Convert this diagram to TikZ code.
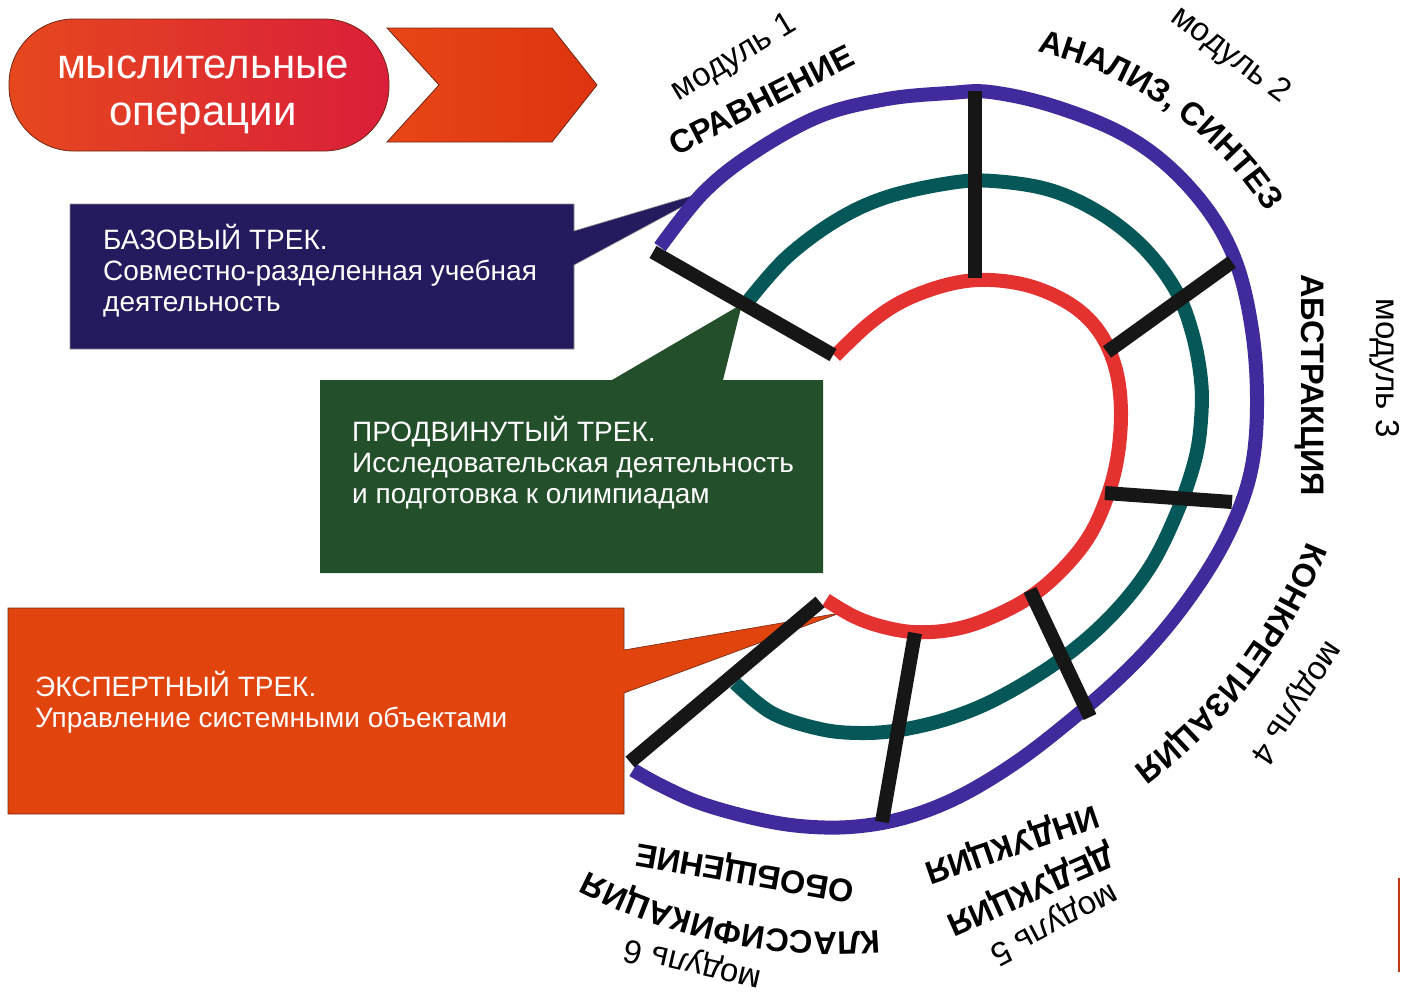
\documentclass[tikz,border=0pt]{standalone}
\usepackage{fontspec}
\setmainfont{Liberation Sans}
\usetikzlibrary{decorations.text}
\definecolor{ringpurple}{RGB}{64,42,156}
\definecolor{ringteal}{RGB}{6,88,88}
\definecolor{ringred}{RGB}{228,50,48}
\definecolor{spokeblack}{RGB}{22,22,22}
\definecolor{boxblue}{RGB}{36,26,94}
\definecolor{boxgreen}{RGB}{35,79,43}
\definecolor{boxorange}{RGB}{226,68,14}
\definecolor{pillleft}{RGB}{230,72,30}
\definecolor{pillright}{RGB}{218,30,58}
\definecolor{chevleft}{RGB}{232,70,22}
\definecolor{chevright}{RGB}{222,52,16}
\definecolor{edgebrown}{RGB}{110,40,20}
\definecolor{edgeline}{RGB}{190,56,18}
\begin{document}
\begin{tikzpicture}[x=1pt,y=-1pt,
  ring/.style={line width=14pt},
  spoke/.style={line width=14pt, draw=spokeblack},
  calltext/.style={text=white, font=\fontsize{28}{31.5}\selectfont, anchor=base west, inner sep=0pt},
  pilltext/.style={text=white, font=\fontsize{42}{47}\selectfont, anchor=base, inner sep=0pt},
  oplabel/.style={font=\fontsize{32.5}{34}\selectfont\bfseries, inner sep=0pt, text height=0.72em, text depth=0pt},
  modlabel/.style={font=\fontsize{33}{35}\selectfont, inner sep=0pt, text height=0.52em, text depth=0pt},
]
\useasboundingbox (0,0) rectangle (1401,996);
\fill[white] (0,0) rectangle (1401,996);

% header
\shade[left color=pillleft, right color=pillright, draw=edgebrown, line width=0.8pt, rounded corners=65pt]
  (9,19) rectangle (389,151);
\shade[left color=chevleft, right color=chevright, draw=edgebrown, line width=0.8pt]
  (387,28) -- (552,28) -- (597,85) -- (552,142) -- (387,142) -- (439,85) -- cycle;
\node[pilltext] (pillA) at (203,78) {мыслительные};
\node[pilltext] (pillB) at (203,125) {операции};

% callouts
\fill[boxblue, draw=black!45, line width=0.6pt]
  (70,204) -- (574,204) -- (574,231) -- (715,189) -- (574,265) -- (574,349) -- (70,349) -- cycle;
\fill[boxgreen]
  (320,380) -- (612,380) -- (742,304) -- (723,380) -- (823,380) -- (823,573) -- (320,573) -- cycle;
\fill[boxorange, draw=edgebrown, line width=0.6pt]
  (8,608) -- (624,608) -- (624,650) -- (840,613) -- (624,693) -- (624,814) -- (8,814) -- cycle;

% rings
\draw[ring, ringpurple] plot[smooth, tension=0.6] coordinates {
  (660,247) (703,193) (753,153) (820,116) (887,99) (950,93) (990,92) (1050,105)
  (1117,131) (1167,165) (1210,213) (1237,265) (1252,330) (1257,397) (1253,460)
  (1238,512) (1210,567) (1167,627) (1117,680) (1050,737) (1000,773) (950,801)
  (900,819) (850,827) (800,826) (753,818) (700,803) (660,785) (633,770)};
\draw[ring, ringteal] plot[smooth, tension=0.6] coordinates {
  (749,300) (787,257) (837,220) (887,197) (950,183) (993,181) (1050,190) (1100,213)
  (1143,247) (1175,289) (1192,332) (1201,380) (1201,420) (1195,460) (1178,510)
  (1150,567) (1110,617) (1060,660) (1000,697) (950,718) (900,730) (860,733)
  (820,729) (772,713) (735,683)};
\draw[ring, ringred] plot[smooth, tension=0.6] coordinates {
  (835,356) (870,323) (905,300) (950,284) (990,280) (1033,287) (1073,306) (1100,333)
  (1116,370) (1121,413) (1117,460) (1106,500) (1088,538) (1060,572) (1027,599)
  (985,620) (950,630) (913,632) (880,626) (853,616) (826,600)};

% spokes
\coordinate (s1a) at (653,252); \coordinate (s1b) at (833,355);
\coordinate (s2a) at (975,91);  \coordinate (s2b) at (975,278);
\coordinate (s3a) at (1232,262); \coordinate (s3b) at (1107,352);
\coordinate (s4a) at (1105,493); \coordinate (s4b) at (1232,502);
\coordinate (s5a) at (1030,590); \coordinate (s5b) at (1090,717);
\coordinate (s6a) at (915,633); \coordinate (s6b) at (882,822);
\coordinate (s7a) at (820,602); \coordinate (s7b) at (630,762);
\foreach \i in {1,...,7} { \draw[spoke] (s\i a) -- (s\i b); }

% callout texts
\node[calltext] (b1) at (103,249) {БАЗОВЫЙ ТРЕК.};
\node[calltext] (b2) at (103,280) {Совместно-разделенная учебная};
\node[calltext] (b3) at (103,311) {деятельность};
\node[calltext] (g1) at (352,441) {ПРОДВИНУТЫЙ ТРЕК.};
\node[calltext] (g2) at (352,472) {Исследовательская деятельность};
\node[calltext] (g3) at (352,503) {и подготовка к олимпиадам};
\node[calltext] (o1) at (35,696) {ЭКСПЕРТНЫЙ ТРЕК.};
\node[calltext] (o2) at (35,727) {Управление системными объектами};

% operation labels
\node[modlabel, rotate=31] (m1) at (737,63) {модуль 1};
\node[oplabel, rotate=27] (l1) at (765,107) {СРАВНЕНИЕ};
\path[decorate, decoration={text along path, text align=center,
  text={|\fontsize{32.5}{34}\selectfont\bfseries|АНАЛИЗ, СИНТЕЗ}}]
  (957,410) ++(85:367pt) arc[start angle=85, end angle=25, radius=367pt];
\node[modlabel, rotate=-37] (m2) at (1227,60) {модуль 2};
\node[oplabel, rotate=-90] (l3) at (1305,385) {АБСТРАКЦИЯ};
\node[modlabel, rotate=-90] (m3) at (1379,368) {модуль 3};
\path[decorate, decoration={text along path, text align=center,
  text={|\fontsize{32.5}{34}\selectfont\bfseries|КОНКРЕТИЗАЦИЯ}}]
  (814,344) ++(-17.4:531pt) arc[start angle=-17.4, end angle=-57.4, radius=531pt];
\node[modlabel, rotate=-124] (m4) at (1291,699) {модуль 4};
\node[oplabel, rotate=-161] (l5a) at (1010,838) {ИНДУКЦИЯ};
\node[oplabel, rotate=-156] (l5b) at (1028,884) {ДЕДУКЦИЯ};
\node[modlabel, rotate=-152] (m5) at (1051,918) {модуль 5};
\node[oplabel, rotate=170] (l6a) at (746,866) {ОБОБЩЕНИЕ};
\path[decorate, decoration={text along path, text align=center,
  text={|\fontsize{32.5}{34}\selectfont\bfseries|КЛАССИФИКАЦИЯ}}]
  (836,394) ++(-79.4:538pt) arc[start angle=-79.4, end angle=-123.4, radius=538pt];
\node[modlabel, rotate=167] (m6) at (694,958) {модуль 6};

% edge mark at right border
\draw[edgeline, line width=2pt] (1399,878) -- (1399,972);
\end{tikzpicture}
\end{document}
